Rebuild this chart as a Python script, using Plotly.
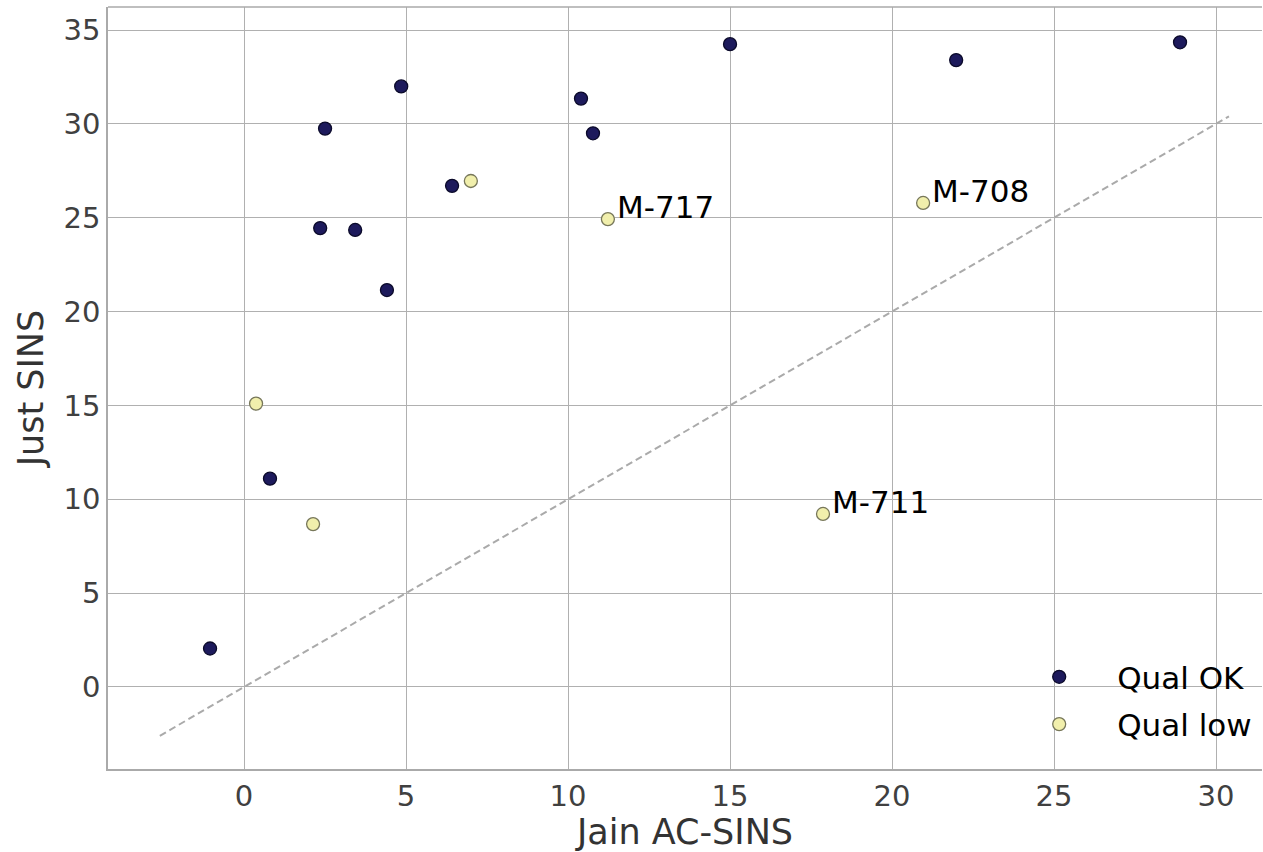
import plotly.graph_objects as go

ok_x = [-1.05, 0.8, 2.35, 2.5, 3.43, 4.41, 4.85, 6.42, 10.4, 10.77, 15.0, 21.98, 28.89]
ok_y = [2.05, 11.1, 24.45, 29.75, 24.35, 21.15, 32.0, 26.7, 31.35, 29.5, 34.25, 33.4, 34.35]

low_x = [0.37, 2.13, 7.0, 11.23, 20.96, 17.87]
low_y = [15.1, 8.68, 26.96, 24.93, 25.79, 9.22]

labels = ["M-717", "M-708", "M-711"]
label_x = [11.23, 20.96, 17.87]
label_y = [24.93, 25.79, 9.22]

diag = [-2.6, 30.4]

FONT = "DejaVu Sans"

fig = go.Figure()
fig.add_trace(go.Scatter(x=diag, y=diag, mode="lines",
                         line=dict(color="#aaaaaa", width=2, dash="7px,4px"),
                         showlegend=False, hoverinfo="skip"))
fig.add_trace(go.Scatter(x=ok_x, y=ok_y, mode="markers", name="Qual OK",
                         legendgroup="a",
                         marker=dict(size=13, color="#1d1a5c",
                                     line=dict(color="#0b0a2a", width=1.3))))
fig.add_trace(go.Scatter(x=low_x, y=low_y, mode="markers", name="Qual low",
                         legendgroup="b",
                         marker=dict(size=13, color="#f1efac",
                                     line=dict(color="#77775a", width=1.3))))

for t, x, y in zip(labels, label_x, label_y):
    fig.add_annotation(x=x, y=y, text=t, showarrow=False, xanchor="left",
                       yanchor="middle", xshift=7, yshift=12,
                       font=dict(family=FONT, size=31, color="black"))

axis_common = dict(showgrid=True, gridcolor="#b0b0b0", gridwidth=1.4,
                   zeroline=False, showline=True, linecolor="#aaaaaa",
                   linewidth=1.6, mirror=False, ticks="",
                   tickfont=dict(family=FONT, size=29, color="#404040"))

fig.update_layout(
    width=1263, height=852,
    margin=dict(l=108, r=1, t=7, b=83),
    paper_bgcolor="white", plot_bgcolor="white",
    font=dict(family=FONT),
    xaxis=dict(range=[-4.2, 31.42], tickvals=[0, 5, 10, 15, 20, 25, 30],
               title=dict(text="Jain AC-SINS", font=dict(family=FONT, size=35, color="#333333"),
                          standoff=0),
               **axis_common),
    yaxis=dict(range=[-4.37, 36.23], tickvals=[0, 5, 10, 15, 20, 25, 30, 35],
               title=dict(text="Just SINS", font=dict(family=FONT, size=35, color="#333333"),
                          standoff=9),
               **axis_common),
    legend=dict(x=0.774, y=0.156, xanchor="left", yanchor="top",
                bgcolor="rgba(0,0,0,0)", itemwidth=106, tracegroupgap=4,
                font=dict(family=FONT, size=31, color="black")),
)
fig.add_shape(type="line", xref="paper", yref="paper", x0=0, x1=1, y0=1, y1=1,
              line=dict(color="#aaaaaa", width=1.6))

fig.write_html("out.html")
